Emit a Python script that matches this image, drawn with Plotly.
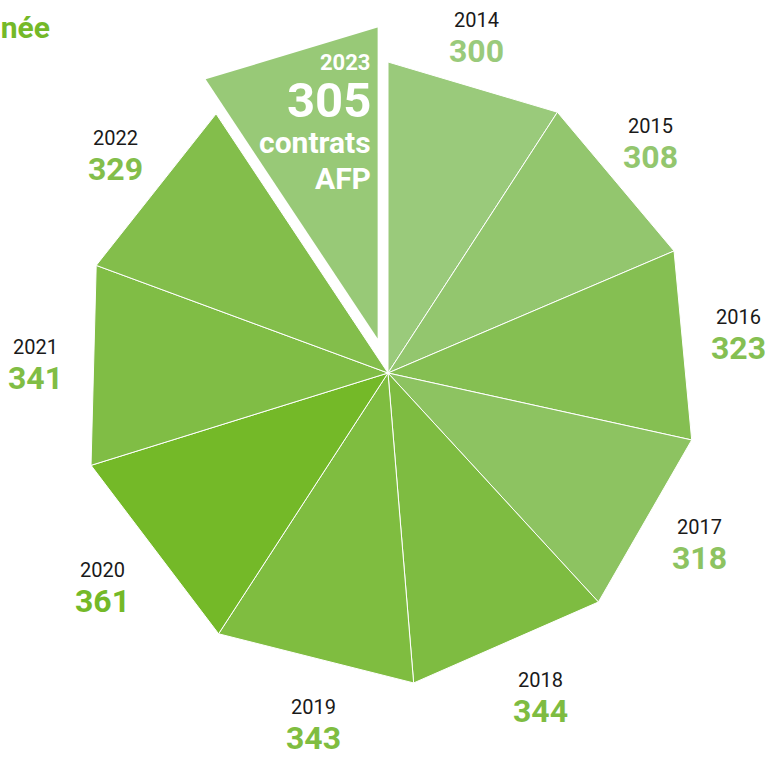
import math
import plotly.graph_objects as go

years = ["2014", "2015", "2016", "2017", "2018", "2019", "2020", "2021", "2022", "2023"]
values = [300, 308, 323, 318, 344, 343, 361, 341, 329, 305]
colors = ["#9aca7b", "#93c66e", "#85bf52", "#8dc361", "#7ebc41",
          "#7fbd40", "#74b928", "#80bd45", "#83be4b", "#98c977"]
highlight = "2023"
unit_lines = ["contrats", "AFP"]
title_text = "Nombre de contrats AFP<br>par année"

W, H = 765, 759
CX, CY = 388, 373
R = 311
EXPLODE = 36
LABEL_R = 353

FONT = "Roboto, 'Liberation Sans', sans-serif"

total = sum(values)
fig = go.Figure()
annotations = []

start = 0.0
for yr, v, c in zip(years, values, colors):
    span = 360.0 * v / total
    a0, a1 = start, start + span
    mid_deg = (a0 + a1) / 2
    mid = math.radians(mid_deg)
    ox, oy = 0.0, 0.0
    if yr == highlight:
        ox, oy = EXPLODE * math.sin(mid), EXPLODE * math.cos(mid)
    xs = [ox, ox + R * math.sin(math.radians(a0)), ox + R * math.sin(math.radians(a1)), ox]
    ys = [oy, oy + R * math.cos(math.radians(a0)), oy + R * math.cos(math.radians(a1)), oy]
    fig.add_trace(go.Scatter(
        x=xs, y=ys, mode="lines", fill="toself", fillcolor=c,
        line=dict(color="white", width=1 if yr != highlight else 0),
        hoverinfo="skip", showlegend=False))
    if yr == highlight:
        rx = ox + R * math.sin(math.radians(a1)) - 5
        top = oy + R * math.cos(math.radians(a1))
        items = [(yr, 22, 35), (str(v), 49, 73), (unit_lines[0], 30, 115), (unit_lines[1], 30, 151)]
        for txt, sz, dy in items:
            annotations.append(dict(
                x=rx, y=top - dy, text="<b>" + txt + "</b>", showarrow=False,
                xanchor="right", yanchor="middle",
                font=dict(family=FONT, size=sz, color="white")))
    else:
        lm = math.radians(mid_deg + (-2 if mid_deg < 200 else 1))
        lx, ly = LABEL_R * math.sin(lm), LABEL_R * math.cos(lm) - 4
        annotations.append(dict(
            x=lx, y=ly + 15, text=yr, showarrow=False, xanchor="center", yanchor="middle",
            font=dict(family=FONT, size=20, color="#1a1a1a")))
        annotations.append(dict(
            x=lx, y=ly - 16, text="<b>" + str(v) + "</b>", showarrow=False,
            xanchor="center", yanchor="middle",
            font=dict(family=FONT, size=32, color=c)))
    start = a1

annotations.append(dict(
    xref="paper", yref="paper", x=52 / W, y=1 - 47 / H,
    text="<b>" + title_text + "</b>",
    showarrow=False, xanchor="right", yanchor="bottom", align="right",
    font=dict(family=FONT, size=30, color="#74b928")))

fig.update_layout(
    width=W, height=H, autosize=False,
    margin=dict(l=0, r=0, t=0, b=0),
    paper_bgcolor="white", plot_bgcolor="white",
    xaxis=dict(range=[-CX, W - CX], visible=False, fixedrange=True),
    yaxis=dict(range=[-(H - CY), CY], visible=False, fixedrange=True),
    annotations=annotations,
)
fig.write_html("out.html", config={"displayModeBar": False},
               post_script="document.body.style.margin='0';document.body.style.overflow='hidden';")
